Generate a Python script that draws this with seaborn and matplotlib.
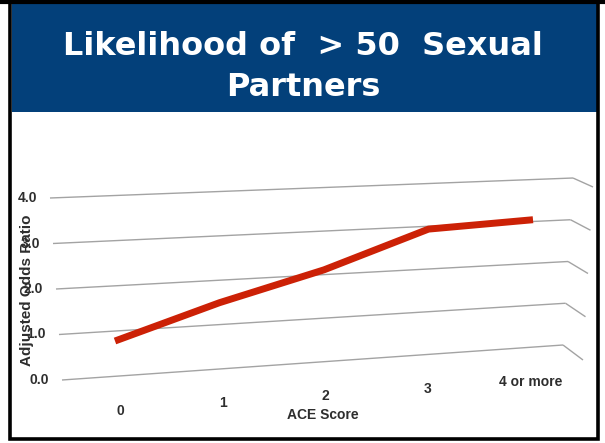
import numpy as np
import pandas as pd
import matplotlib
matplotlib.use("Agg")
import matplotlib.pyplot as plt
import seaborn as sns
from matplotlib.transforms import Transform, Affine2D
from matplotlib.patches import Rectangle

# ---- data ----
scores = ["0", "1", "2", "3", "4 or more"]
odds_ratio = [1.0, 1.7, 2.3, 3.1, 3.2]
y_ticks = [0.0, 1.0, 2.0, 3.0, 4.0]
y_tick_labels = ["0.0", "1.0", "2.0", "3.0", "4.0"]
title_lines = ["Likelihood of  > 50  Sexual", "Partners"]
x_title = "ACE Score"
y_title = "Adjusted Odds Ratio"

W, H = 605, 443
X_RANGE = (-0.5, len(scores) - 0.5)
V_RANGE = (0.0, 4.0)


class WallProjection(Transform):
    """Maps (category position, value) onto a tilted 3-D wall given by four
    pixel corners (x, y-from-top): bottom-left, bottom-right, top-left, top-right."""
    input_dims = 2
    output_dims = 2
    is_separable = False
    has_inverse = False

    def __init__(self, bl, br, tl, tr, x_range=X_RANGE, v_range=V_RANGE):
        super().__init__()
        self.bl, self.br = np.asarray(bl, float), np.asarray(br, float)
        self.tl, self.tr = np.asarray(tl, float), np.asarray(tr, float)
        self.x_range, self.v_range = x_range, v_range

    def transform_non_affine(self, values):
        values = np.asarray(values, float)
        one_d = values.ndim == 1
        values = values.reshape(-1, 2)
        u = (values[:, 0] - self.x_range[0]) / (self.x_range[1] - self.x_range[0])
        w = (values[:, 1] - self.v_range[0]) / (self.v_range[1] - self.v_range[0])
        p = (((1 - u) * (1 - w))[:, None] * self.bl + (u * (1 - w))[:, None] * self.br
             + ((1 - u) * w)[:, None] * self.tl + (u * w)[:, None] * self.tr)
        out = np.column_stack([p[:, 0], H - p[:, 1]])
        return out.reshape(-1) if one_d else out


# walls of the 3-D box
back_wall = WallProjection((62, 380), (563, 345), (50, 198), (573, 178))
side_wall = WallProjection((563, 345), (583, 360), (573, 178), (593, 187))
series_plane = WallProjection((62.75, 390.7), (585.25, 354.1), (62.75, 205.1), (585.25, 183))
floor_edge = WallProjection((68.7, 414.45), (581.7, 377.95), (68.7, 414.45), (581.7, 377.95))

fig = plt.figure(figsize=(W / 100, H / 100), dpi=100)
ax = fig.add_axes([0, 0, 1, 1])
ax.set_axis_off()
ax.set_xlim(0, 1)
ax.set_ylim(0, 1)


def fig_px(x, y):
    return x / W, 1 - y / H


# slide frame and title banner
fig.patches.append(Rectangle(fig_px(12, 112), 585 / W, 108 / H, transform=fig.transFigure,
                             facecolor="#03407a", edgecolor="none", zorder=0))
fig.patches.append(Rectangle(fig_px(9.75, 439.25), 588.5 / W, 437.25 / H, transform=fig.transFigure,
                             facecolor="none", edgecolor="black", linewidth=2.6, zorder=5))
fig.patches.append(Rectangle(fig_px(0, 2), 605 / W, 0.1 / H, transform=fig.transFigure,
                             facecolor="none", edgecolor="black", linewidth=3, zorder=5))

for line, base in zip(title_lines, [55, 96]):
    fig.text(*fig_px(303, base), line, ha="center", va="baseline", color="white",
             fontsize=23, fontweight="bold", family="DejaVu Sans")

# gridlines on back and side walls
grid_kw = dict(color="#a3a3a3", linewidth=1.0, solid_capstyle="butt", zorder=1)
for v in y_ticks:
    ax.plot(list(X_RANGE), [v, v], transform=back_wall, **grid_kw)
    ax.plot(list(X_RANGE), [v, v], transform=side_wall, **grid_kw)

# y tick labels
label_kw = dict(color="#2e2e2e", fontsize=10, fontweight="bold", family="Liberation Sans")
for v, lab in zip(y_ticks, y_tick_labels):
    ax.text(X_RANGE[0], v, lab, transform=back_wall + Affine2D().translate(-13, 0),
            ha="right", va="center", zorder=3, **label_kw)

# x tick labels along the front floor edge
for i, lab in enumerate(scores):
    ax.text(i, 0, lab, transform=floor_edge, ha="center", va="center", zorder=3, **label_kw)

# data series
df = pd.DataFrame({"pos": np.arange(len(scores)), "odds": odds_ratio})
sns.lineplot(data=df, x="pos", y="odds", ax=ax, color="#cc2106", linewidth=5,
             legend=False, sort=False)
red = ax.lines[-1]
red.set_transform(series_plane)
red.set_solid_capstyle("butt")
red.set_solid_joinstyle("round")
red.set_clip_on(False)
red.set_zorder(4)
ax.set_axis_off()

# axis titles
fig.text(*fig_px(323, 415), x_title, ha="center", va="center", zorder=6, **label_kw)
fig.text(*fig_px(27, 290), y_title, ha="center", va="center", rotation=90,
         color="#2e2e2e", fontsize=11, fontweight="bold", family="Liberation Sans", zorder=6)

fig.savefig("out.png", dpi=100)
